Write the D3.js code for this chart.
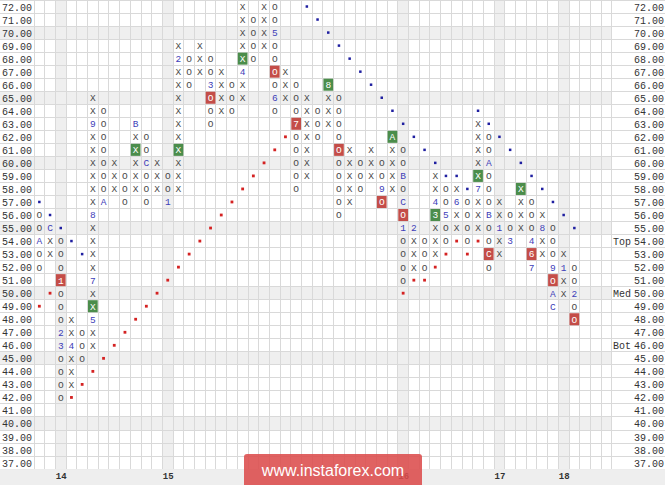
<!DOCTYPE html>
<html><head><meta charset="utf-8">
<script src="https://cdn.jsdelivr.net/npm/d3@7"></script>
<style>html,body{margin:0;padding:0;background:#fff;}svg{display:block;}</style>
</head><body>
<script>
// ---- data ----
const priceTicks = d3.range(37, 73);
const shadedPrices = [70, 65, 60, 55, 50, 45, 40];
const columnType = ["O","X","O","X","O","X","O","X","O","X","O","X","O","X","O","X","O","X","O","X","O","X","O","X","O","X","O","X","O","X","O","X","O","X","O","X","O","X","O","X","O","X","O","X","O","X","O","X","O","X","O"];
const columnLow  = [52,53,42,43,45,46,57,58,57,58,57,58,57,58,66,67,63,64,64,65,68,69,64,65,58,59,62,63,56,57,58,59,57,58,51,52,52,53,54,55,54,55,52,53,54,55,52,53,49,50,48];
const columnHigh = [56,55,54,48,47,65,64,60,59,63,62,60,59,69,68,69,68,67,66,72,71,73,72,67,66,65,64,66,65,61,60,61,60,62,61,55,54,59,58,58,57,63,62,57,56,58,57,56,55,53,52];
const monthMarks = [
  [0,54,"A"],[1,55,"C"],[2,51,"1"],[2,47,"2"],[2,46,"3"],[3,46,"4"],[5,48,"5"],[5,51,"7"],[5,56,"8"],[5,63,"9"],
  [6,57,"A"],[9,63,"B"],[10,60,"C"],[12,57,"1"],[13,68,"2"],[16,66,"3"],[19,67,"4"],[22,70,"5"],[22,65,"6"],
  [24,63,"7"],[27,66,"8"],[32,58,"9"],[33,62,"A"],[34,59,"B"],[34,57,"C"],[34,55,"1"],[35,55,"2"],[37,56,"3"],
  [37,57,"4"],[38,56,"5"],[39,57,"6"],[41,58,"7"],[42,60,"A"],[42,56,"B"],[42,53,"C"],[43,55,"1"],[44,54,"3"],
  [46,54,"4"],[46,53,"6"],[46,52,"7"],[47,55,"8"],[48,52,"9"],[48,50,"A"],[48,49,"C"],[49,52,"1"],[50,50,"2"]
];
const buySignals  = [[5,49],[9,61],[13,61],[19,68],[21,73],[27,66],[33,62],[37,56],[41,59],[45,58]];
const sellSignals = [[2,51],[16,65],[22,67],[24,63],[28,61],[32,57],[34,56],[42,53],[46,53],[48,51],[50,48]];
const resistanceDots = [[0,57],[1,56],[2,55],[3,54],[4,53],
  [25,72],[26,71],[27,70],[28,69],[29,68],[30,67],[31,66],[32,65],[33,64],[34,63],[35,62],[36,61],[37,60],[38,59],[39,59],[40,58],
  [41,64],[42,63],[43,62],[44,61],[45,60],[46,59],[47,58],[48,57],[49,56],[50,55]];
const supportDots = [[0,49],[1,50],
  [3,42],[4,43],[5,44],[6,45],[7,46],[8,47],[9,48],[10,49],[11,50],[12,51],[13,52],[14,53],[15,54],[16,55],[17,56],[18,57],[19,58],[20,59],[21,60],[22,61],[23,62],
  [34,50],[35,51],[36,51],[37,52],[38,53],[39,54],[40,53],[41,54]];
const yearLabels = ["14","15","16","17","18"];
const yearColumns = [2,12,34,43,49];
const levelLabels = ["Top","Med","Bot"];
const levelPrices = [54,50,46];
const nColumns = 54;

// ---- chart ----
const W = 665, H = 485, gridL = 34, gridR = 611.8, gridB = 469.1;
const mono = "'Liberation Mono','DejaVu Sans Mono',monospace";
const svg = d3.select("body").append("svg").attr("width", W).attr("height", H);
const x = d3.scaleLinear().domain([0, nColumns]).range([gridL, gridR]);
const y = d3.scaleLinear().domain([72.5, 36.5]).range([0, gridB]);
const cw = x(1) - x(0), ch = y(0) - y(1);
const maxPrice = d3.max(priceTicks);

const defs = svg.append("defs");
defs.append("clipPath").attr("id","gclip").append("rect").attr("x",0).attr("y",0).attr("width",W).attr("height",gridB);

// shaded rows and year columns
svg.append("g").selectAll("rect").data(shadedPrices).join("rect")
  .attr("x", 0).attr("width", gridR).attr("y", d => y(d + 0.5)).attr("height", ch).attr("fill", "#efefef");
svg.append("g").selectAll("rect").data(yearColumns).join("rect")
  .attr("x", d => x(d)).attr("width", cw).attr("y", 0).attr("height", gridB).attr("fill", "#efefef");

// grid lines
const grid = svg.append("g").attr("stroke", "#d9d9d9").attr("stroke-width", 1).attr("shape-rendering", "crispEdges");
grid.selectAll("line.v").data(d3.range(0, nColumns + 1)).join("line").attr("class","v")
  .attr("x1", d => x(d)).attr("x2", d => x(d)).attr("y1", 0).attr("y2", gridB);
grid.selectAll("line.h").data(d3.range(36, 73)).join("line").attr("class","h")
  .attr("x1", 0).attr("x2", W).attr("y1", d => y(d + 0.5)).attr("y2", d => y(d + 0.5));

// cells
const monthMap = new Map(monthMarks.map(d => [d[0] + "_" + d[1], d[2]]));
const buySet = new Set(buySignals.map(d => d[0] + "_" + d[1]));
const sellSet = new Set(sellSignals.map(d => d[0] + "_" + d[1]));
const cells = [];
columnType.forEach((t, i) => {
  for (let p = columnLow[i]; p <= columnHigh[i]; p++) {
    const k = i + "_" + p;
    cells.push({col: i, price: p, text: monthMap.has(k) ? monthMap.get(k) : t,
      month: monthMap.has(k), box: buySet.has(k) ? "buy" : (sellSet.has(k) ? "sell" : null)});
  }
});
const cg = svg.append("g").attr("clip-path", "url(#gclip)");
cg.selectAll("rect").data(cells.filter(d => d.box)).join("rect")
  .attr("x", d => x(d.col) + 0.5).attr("y", d => y(d.price + 0.5) + 0.5)
  .attr("width", cw - 1).attr("height", ch - 1)
  .attr("fill", d => d.box === "buy" ? "#4b8d4b" : "#c44d48");
cg.selectAll("text").data(cells.filter(d => d.price <= maxPrice)).join("text")
  .attr("x", d => x(d.col + 0.5)).attr("y", d => y(d.price) + 3.4)
  .attr("text-anchor", "middle").attr("font-family", mono).attr("font-size", 9.5)
  .attr("fill", d => d.box ? "#ffffff" : (d.month ? "#4040b8" : "#4a4a4a"))
  .text(d => d.text);

// trend dots
svg.append("g").selectAll("rect").data(resistanceDots).join("rect")
  .attr("x", d => x(d[0] + 0.5) - 1.25).attr("y", d => y(d[1]) - 1.25).attr("width", 2.5).attr("height", 2.5)
  .attr("fill", "#1f1fa0");
svg.append("g").selectAll("rect").data(supportDots).join("rect")
  .attr("x", d => x(d[0] + 0.5) - 1.4).attr("y", d => y(d[1]) - 1.4).attr("width", 2.8).attr("height", 2.8)
  .attr("fill", "#d42222");

// price axes
const fmt = d3.format(".2f");
const axL = svg.append("g").attr("transform", `translate(${gridL - 2},0)`)
  .call(d3.axisLeft(y).tickValues(priceTicks).tickSize(0).tickPadding(0).tickFormat(fmt));
const axR = svg.append("g").attr("transform", `translate(634,0)`)
  .call(d3.axisRight(y).tickValues(priceTicks).tickSize(0).tickPadding(0).tickFormat(fmt));
[axL, axR].forEach(a => {
  a.select(".domain").remove();
  a.selectAll("text").attr("font-family", mono).attr("font-size", 10).attr("fill", "#333").attr("dy", "0.35em");
});

// level labels
svg.append("g").selectAll("text").data(levelLabels).join("text")
  .attr("x", 631).attr("y", (d, i) => y(levelPrices[i])).attr("dy", "0.35em")
  .attr("text-anchor", "end").attr("font-family", mono).attr("font-size", 10).attr("fill", "#333")
  .text(d => d);

// bottom band with years
svg.append("rect").attr("x", 0).attr("y", gridB).attr("width", W).attr("height", H - gridB).attr("fill", "#eeeeee");
const bx = d3.axisBottom(x).tickValues(yearColumns.map(c => c + 0.5)).tickSize(0).tickPadding(0)
  .tickFormat((d, i) => yearLabels[i]);
const axB = svg.append("g").attr("transform", `translate(0,${gridB + 4})`).call(bx);
axB.select(".domain").remove();
axB.selectAll("text").attr("font-family", mono).attr("font-size", 9).attr("font-weight", "bold").attr("fill", "#333");

// watermark
svg.append("rect").attr("x", 244).attr("y", 454).attr("width", 178).attr("height", 40).attr("rx", 3)
  .attr("fill", "#dc4c4c").attr("opacity", 0.88);
svg.append("text").attr("x", 333).attr("y", 476).attr("text-anchor", "middle")
  .attr("font-family", "'Liberation Sans',Arial,sans-serif").attr("font-size", 16).attr("fill", "#fff")
  .text("www.instaforex.com");
</script>
</body></html>
